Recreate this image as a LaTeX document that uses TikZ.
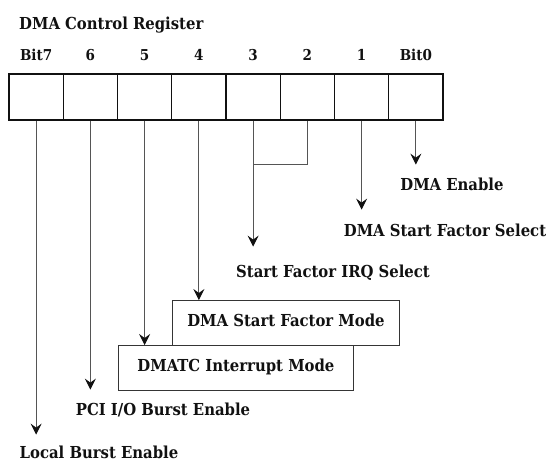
\documentclass[tikz,border=0pt]{standalone}
\usepackage{fontspec}
\setmainfont{DejaVu Serif Condensed}
\usepackage{tikz}
\usetikzlibrary{positioning,arrows.meta,calc}
\definecolor{ink}{HTML}{111111}
\definecolor{wire}{HTML}{555555}
\tikzset{
  cell/.style={draw=ink,line width=1.2pt,fill=white,minimum width=54.25pt,minimum height=46pt,inner sep=0pt},
  bitnum/.style={font=\fontsize{15}{18}\selectfont\bfseries,text=ink,inner sep=0pt},
  title/.style={font=\fontsize{16.5}{20}\selectfont\bfseries,text=ink,inner sep=0pt},
  field/.style={font=\fontsize{16.5}{20}\selectfont\bfseries,text=ink,inner sep=0pt,text height=12pt,text depth=4pt},
  fieldbox/.style={field,draw=ink!85,line width=0.9pt,fill=white,inner xsep=10pt,minimum height=45pt},
  wireline/.style={draw=wire,line width=1pt},
  arrow/.style={wireline,-{Stealth[length=11pt,width=11pt,inset=4pt,color=ink]}}
}
\begin{document}
\begin{tikzpicture}[x=1pt,y=-1pt]
  \useasboundingbox (0,0) rectangle (550,464);
  \node[title,anchor=west] (regname) at (19,25) {DMA Control Register};
  % register cells, bit 7 on the left
  \foreach \i/\lbl in {7/Bit7,6/6,5/5,4/4,3/3,2/2,1/1,0/Bit0} {
    \node[cell] (b\i) at ({9+54.25*(7.5-\i)},97) {};
    \node[bitnum] (n\i) at ({9+54.25*(7.5-\i)},55) {\lbl};
  }
  \node[field] (enable) at (452,186) {DMA Enable};
  \node[field] (factsel) at (445,232) {DMA Start Factor Select};
  \node[field] (irqsel) at (333,273) {Start Factor IRQ Select};
  \node[fieldbox,minimum width=227pt,anchor=north west] (sfmode) at (172,300) {DMA Start Factor Mode};
  \node[fieldbox,minimum width=235pt,anchor=north west] (tcmode) at (118,345) {DMATC Interrupt Mode};
  \node[field] (pciburst) at (163,411) {PCI I/O Burst Enable};
  \node[field] (localburst) at (99,454) {Local Burst Enable};
  \coordinate (join) at ($(b3.south)+(0,44)$);
  \draw[arrow] (b0.south) -- ++(0,44);
  \draw[arrow] (b1.south) -- ++(0,89);
  \draw[wireline] (b2.south) |- (join);
  \draw[arrow] (b3.south) -- ++(0,126);
  \draw[arrow] (b4.south) -- (b4.south |- sfmode.north);
  \draw[arrow] (b5.south) -- (b5.south |- tcmode.north);
  \draw[arrow] (b6.south) -- ++(0,269);
  \draw[arrow] (b7.south) -- ++(0,314);
\end{tikzpicture}
\end{document}
